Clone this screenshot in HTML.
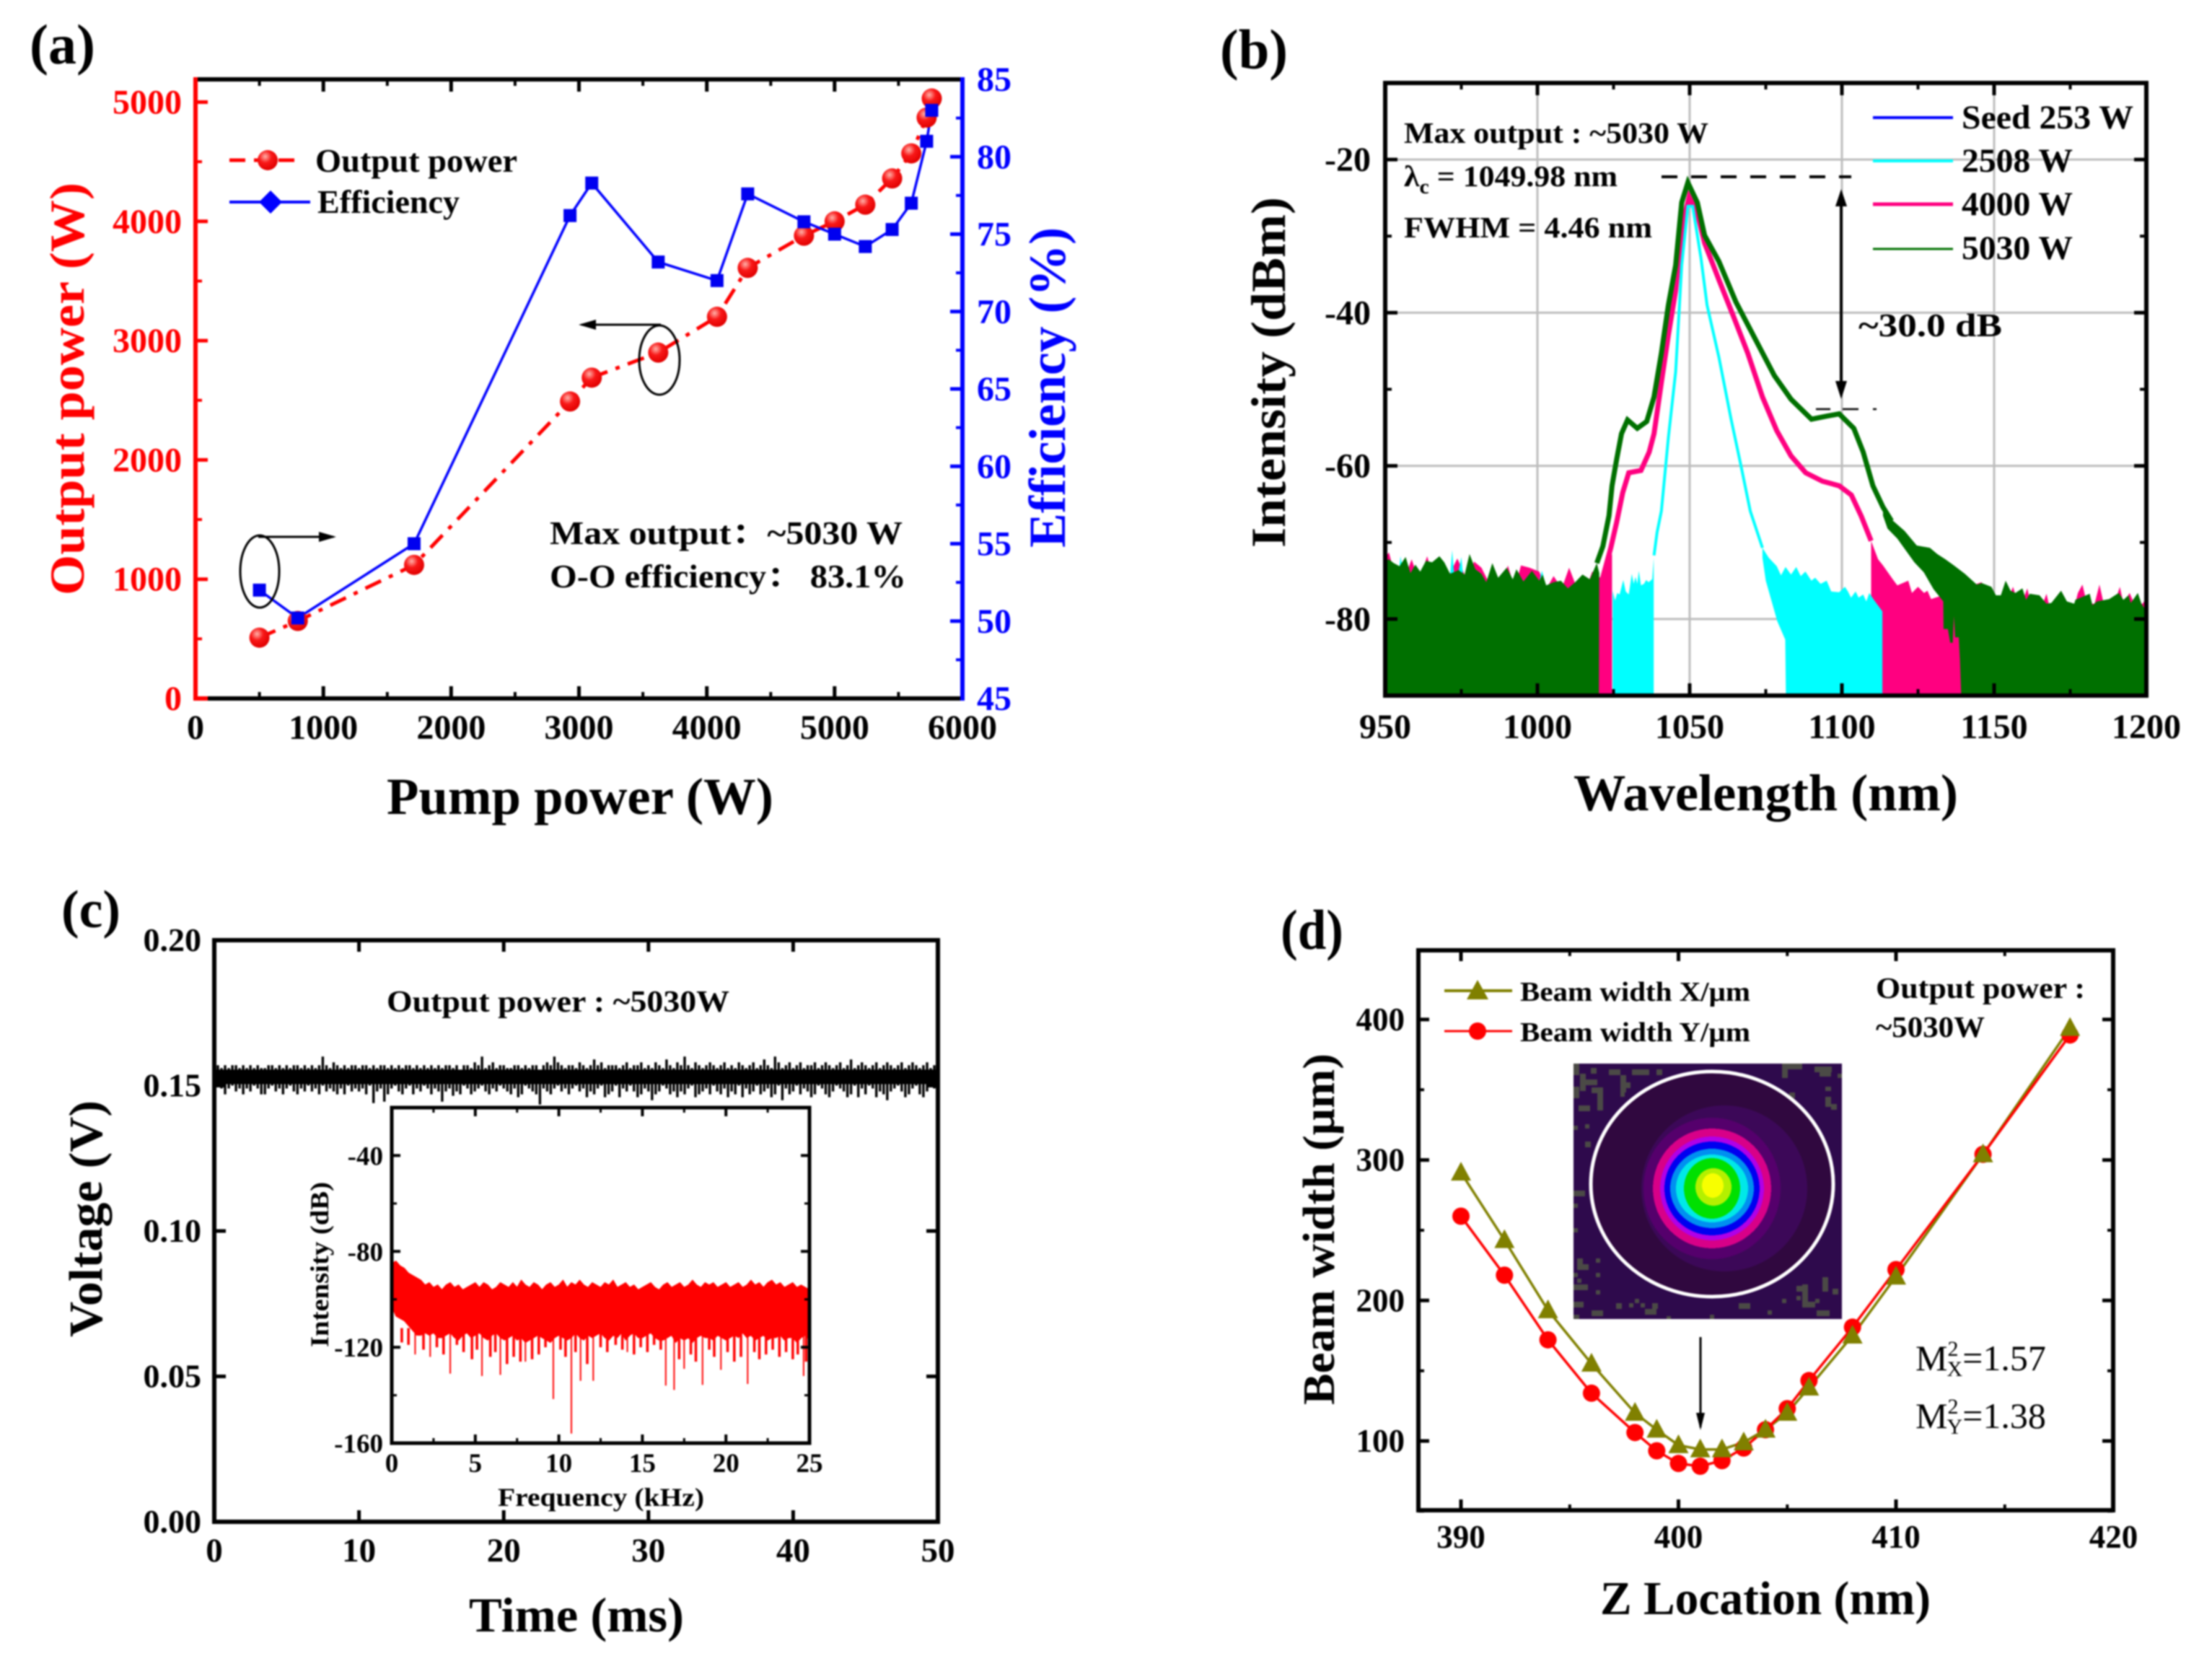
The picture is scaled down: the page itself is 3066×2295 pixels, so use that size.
<!DOCTYPE html>
<html lang="en">
<head>
<meta charset="utf-8">
<title>Fiber laser results figure</title>
<style>
html,body{margin:0;padding:0;background:#fff;width:3066px;height:2295px;overflow:hidden}
svg{display:block;filter:blur(1.1px)}
text{font-family:"Liberation Serif","Noto Serif CJK SC",serif;font-weight:bold;fill:#000}
</style>
</head>
<body>
<svg id="fig" xmlns="http://www.w3.org/2000/svg" width="3066" height="2295" viewBox="0 0 3066 2295">
<defs>
<radialGradient id="ball" cx="38%" cy="32%" r="70%"><stop offset="0" stop-color="#ffb0a8"/><stop offset="0.45" stop-color="#f81818"/><stop offset="1" stop-color="#e00000"/></radialGradient>
<clipPath id="clip-b"><rect x="1920" y="115" width="1055" height="849"/></clipPath>
<clipPath id="clip-inset"><rect x="543" y="1535" width="579" height="465"/></clipPath>
<clipPath id="clip-beam"><rect x="2181" y="1474" width="372" height="354"/></clipPath>
</defs>

<!-- panel a -->
<g id="panel-a">
  <g id="a-marks"></g>
  <line x1="271" y1="110" x2="1334" y2="110" stroke="#000" stroke-width="6"/>
  <line x1="271" y1="968" x2="1334" y2="968" stroke="#000" stroke-width="6"/>
  <line x1="271" y1="968" x2="288" y2="968" stroke="#f00" stroke-width="6"/>
  <line x1="271" y1="107" x2="271" y2="971" stroke="#f00" stroke-width="6"/>
  <line x1="1334" y1="107" x2="1334" y2="971" stroke="#00f" stroke-width="6"/>
  <text x="41" y="88" font-size="78" textLength="91" lengthAdjust="spacingAndGlyphs">(a)</text>
  <text x="536" y="1128" font-size="72" textLength="536" lengthAdjust="spacingAndGlyphs">Pump power (W)</text>
  <text transform="translate(116,825) rotate(-90)" font-size="68" textLength="572" lengthAdjust="spacingAndGlyphs" style="fill:#f00">Output power (W)</text>
  <text transform="translate(1476,759) rotate(-90)" font-size="72" textLength="444" lengthAdjust="spacingAndGlyphs" style="fill:#00f">Efficiency (%)</text>
  <g>
    <line x1="318" y1="222" x2="415" y2="222" stroke="#f00" stroke-width="5" stroke-dasharray="22 12"/>
    <circle cx="371" cy="222" r="14" fill="url(#ball)"/>
    <text x="437" y="238" font-size="46" textLength="280" lengthAdjust="spacingAndGlyphs">Output power</text>
    <line x1="318" y1="280" x2="430" y2="280" stroke="#00f" stroke-width="4"/>
    <path d="M375 264L391 280L375 296L359 280z" fill="#00f"/>
    <text x="440" y="295" font-size="46" textLength="197" lengthAdjust="spacingAndGlyphs">Efficiency</text>
  </g>
  <text x="762" y="754" font-size="46" textLength="489" lengthAdjust="spacingAndGlyphs">Max output：~5030 W</text>
  <text x="762" y="814" font-size="46" textLength="494" lengthAdjust="spacingAndGlyphs">O-O efficiency： 83.1%</text>
  <ellipse cx="360" cy="792" rx="27" ry="50" fill="none" stroke="#000" stroke-width="3"/>
  <path d="M358 744H462" fill="none" stroke="#000" stroke-width="3"/>
  <path d="M442 737L466 744L442 751z" fill="#000"/>
  <ellipse cx="914" cy="499" rx="28" ry="48" fill="none" stroke="#000" stroke-width="3"/>
  <path d="M916 450H806" fill="none" stroke="#000" stroke-width="3"/>
  <path d="M826 443L802 450L826 457z" fill="#000"/>
</g>

<!-- panel b -->
<g id="panel-b">
  <g id="b-grid"></g>
  <g id="b-marks" clip-path="url(#clip-b)"></g>
  <rect x="1920" y="115" width="1055" height="849" fill="none" stroke="#000" stroke-width="6"/>
  <g id="b-axes"></g>
  <text x="1691" y="95" font-size="78" textLength="94" lengthAdjust="spacingAndGlyphs">(b)</text>
  <text x="2181" y="1123" font-size="72" textLength="533" lengthAdjust="spacingAndGlyphs">Wavelength (nm)</text>
  <text transform="translate(1781,759) rotate(-90)" font-size="68" textLength="486" lengthAdjust="spacingAndGlyphs">Intensity (dBm)</text>
  <g>
    <line x1="2596" y1="163" x2="2707" y2="163" stroke="#00f" stroke-width="4"/>
    <text x="2719" y="178" font-size="47" textLength="238" lengthAdjust="spacingAndGlyphs">Seed 253 W</text>
    <line x1="2596" y1="223" x2="2707" y2="223" stroke="#0ff" stroke-width="4"/>
    <text x="2719" y="238" font-size="47" textLength="154" lengthAdjust="spacingAndGlyphs">2508 W</text>
    <line x1="2596" y1="283" x2="2707" y2="283" stroke="#ff0080" stroke-width="5"/>
    <text x="2719" y="298" font-size="47" textLength="154" lengthAdjust="spacingAndGlyphs">4000 W</text>
    <line x1="2596" y1="345" x2="2707" y2="345" stroke="#007000" stroke-width="3"/>
    <text x="2719" y="359" font-size="47" textLength="154" lengthAdjust="spacingAndGlyphs">5030 W</text>
  </g>
  <text x="1946" y="198" font-size="41" textLength="422" lengthAdjust="spacingAndGlyphs">Max output : ~5030 W</text>
  <text x="1946" y="258" font-size="41" textLength="296" lengthAdjust="spacingAndGlyphs">λ<tspan dy="10" font-size="28">c</tspan><tspan dy="-10"> = 1049.98 nm</tspan></text>
  <text x="1946" y="329" font-size="41" textLength="344" lengthAdjust="spacingAndGlyphs">FWHM = 4.46 nm</text>
  <path d="M2303 245H2566" stroke="#000" stroke-width="4" stroke-dasharray="22 19" fill="none"/>
  <path d="M2517 567H2603" stroke="#000" stroke-width="2.5" stroke-dasharray="20 17 22 20 5" fill="none"/>
  <path d="M2552 275V542" stroke="#000" stroke-width="4" fill="none"/>
  <path d="M2552 262L2544 286H2560zM2552 553L2544 528H2560z" fill="#000"/>
  <text x="2576" y="466" font-size="46" textLength="199" lengthAdjust="spacingAndGlyphs" style="font-weight:600">~30.0 dB</text>
</g>

<!-- panel c -->
<g id="panel-c">
  <g id="c-marks"></g>
  <rect x="297" y="1303" width="1003" height="806" fill="none" stroke="#000" stroke-width="6"/>
  <g id="c-axes"></g>
  <rect x="543" y="1535" width="579" height="465" fill="#fff"/>
  <g id="inset-marks" clip-path="url(#clip-inset)"></g>
  <rect x="543" y="1535" width="579" height="465" fill="none" stroke="#000" stroke-width="5"/>
  <g id="inset-axes"></g>
  <text x="85" y="1285" font-size="74" textLength="82" lengthAdjust="spacingAndGlyphs">(c)</text>
  <text x="650" y="2261" font-size="68" textLength="298" lengthAdjust="spacingAndGlyphs">Time (ms)</text>
  <text transform="translate(141,1853) rotate(-90)" font-size="66" textLength="328" lengthAdjust="spacingAndGlyphs">Voltage (V)</text>
  <text x="536" y="1402" font-size="42" textLength="475" lengthAdjust="spacingAndGlyphs">Output power : ~5030W</text>
  <text x="690" y="2087" font-size="36" textLength="286" lengthAdjust="spacingAndGlyphs">Frequency (kHz)</text>
  <text transform="translate(455,1867) rotate(-90)" font-size="36" textLength="229" lengthAdjust="spacingAndGlyphs">Intensity (dB)</text>
</g>

<!-- panel d -->
<g id="panel-d">
  <g clip-path="url(#clip-beam)">
    <rect x="2181" y="1474" width="372" height="354" fill="#2e0a4c"/>
    <path fill="#4b4a46" d="M2181 1474h8v16h-8zM2205 1480h8v8h-8zM2230 1482h16v8h-16zM2262 1482h24v8h-24zM2296 1482h8v8h-8zM2190 1488h8v24h-8zM2198 1496h16v8h-16zM2181 1506h8v16h-8zM2206 1507h16v8h-16zM2214 1515h8v24h-8zM2246 1490h8v24h-8zM2254 1500h6v8h-6zM2310 1514h6v6h-6zM2188 1532h16v8h-16zM2246 1514h6v6h-6zM2470 1474h20v8h-20zM2470 1482h8v12h-8zM2490 1474h8v8h-8zM2515 1478h24v8h-24zM2522 1486h16v6h-16zM2547 1488h6v6h-6zM2530 1506h8v6h-8zM2480 1514h8v8h-8zM2450 1532h8v16h-8zM2530 1520h8v14h-8zM2538 1530h8v8h-8zM2181 1560h6v6h-6zM2197 1558h6v6h-6zM2197 1582h8v8h-8zM2181 1650h16v8h-16zM2181 1668h6v6h-6zM2181 1702h6v6h-6zM2186 1744h8v16h-8zM2186 1752h16v8h-16zM2181 1764h6v6h-6zM2186 1772h6v6h-6zM2181 1780h20v8h-20zM2212 1744h6v6h-6zM2212 1764h6v6h-6zM2212 1788h6v6h-6zM2181 1804h14v8h-14zM2206 1816h16v8h-16zM2240 1806h8v8h-8zM2258 1806h6v6h-6zM2266 1800h6v6h-6zM2274 1806h6v6h-6zM2280 1814h16v8h-16zM2290 1806h8v8h-8zM2410 1806h16v8h-16zM2450 1816h6v6h-6zM2470 1800h6v6h-6zM2490 1796h6v6h-6zM2498 1780h8v24h-8zM2498 1804h18v8h-18zM2516 1800h6v6h-6zM2526 1770h8v20h-8zM2490 1782h14v8h-14zM2540 1786h8v8h-8zM2518 1816h18v8h-18zM2181 1822h8v6h-8zM2370 1822h6v6h-6zM2310 1824h6v4h-6z"/>
    <ellipse cx="2373" cy="1641" rx="166" ry="154" fill="#30083f"/>
    <ellipse cx="2390" cy="1647" rx="115" ry="115" fill="#3c0858"/>
    <ellipse cx="2373" cy="1647" rx="95" ry="98" fill="#55006c"/>
    <ellipse cx="2373" cy="1647" rx="82" ry="83" fill="#d80088" shape-rendering="crispEdges"/>
    <ellipse cx="2373" cy="1647" rx="72" ry="72" fill="#b000e8" shape-rendering="crispEdges"/>
    <ellipse cx="2373" cy="1647" rx="66" ry="65" fill="#0000f0" shape-rendering="crispEdges"/>
    <ellipse cx="2373" cy="1647" rx="58" ry="55" fill="#0090f0" shape-rendering="crispEdges"/>
    <ellipse cx="2373" cy="1647" rx="50" ry="47" fill="#00e8e8" shape-rendering="crispEdges"/>
    <ellipse cx="2373" cy="1647" rx="39" ry="42" fill="#00e000" shape-rendering="crispEdges"/>
    <ellipse cx="2375" cy="1645" rx="25" ry="26" fill="#b4f000" shape-rendering="crispEdges"/>
    <ellipse cx="2374" cy="1643" rx="15" ry="17" fill="#f8ff00" shape-rendering="crispEdges"/>
    <ellipse cx="2373" cy="1641" rx="168" ry="156" fill="none" stroke="#fff" stroke-width="5"/>
  </g>
  <g id="d-marks"></g>
  <rect x="1966" y="1317" width="963" height="776" fill="none" stroke="#000" stroke-width="6"/>
  <g id="d-axes"></g>
  <text x="1775" y="1315" font-size="78" textLength="87" lengthAdjust="spacingAndGlyphs">(d)</text>
  <text x="2218" y="2237" font-size="66" textLength="458" lengthAdjust="spacingAndGlyphs">Z Location (nm)</text>
  <text transform="translate(1849,1947) rotate(-90)" font-size="62" textLength="487" lengthAdjust="spacingAndGlyphs">Beam width (μm)</text>
  <g>
    <line x1="2002" y1="1373" x2="2096" y2="1373" stroke="#808000" stroke-width="4"/>
    <path d="M2048 1358L2063 1385H2033z" fill="#808000"/>
    <text x="2107" y="1387" font-size="38" textLength="319" lengthAdjust="spacingAndGlyphs">Beam width X/μm</text>
    <line x1="2002" y1="1429" x2="2096" y2="1429" stroke="#f00" stroke-width="3"/>
    <circle cx="2048" cy="1429" r="12" fill="#f00"/>
    <text x="2107" y="1443" font-size="38" textLength="319" lengthAdjust="spacingAndGlyphs">Beam width Y/μm</text>
  </g>
  <text x="2600" y="1383" font-size="41" textLength="290" lengthAdjust="spacingAndGlyphs">Output power :</text>
  <text x="2600" y="1437" font-size="41" textLength="151" lengthAdjust="spacingAndGlyphs">~5030W</text>
  <path d="M2357 1853V1978" stroke="#000" stroke-width="3" fill="none"/>
  <path d="M2357 1982L2351 1958H2363z" fill="#000"/>
  <text x="2655" y="1899" font-size="50" style="font-weight:normal">M<tspan dy="-20" font-size="30">2</tspan><tspan dy="28" dx="-16" font-size="30">X</tspan><tspan dy="-8" font-size="50">=1.57</tspan></text>
  <text x="2655" y="1979" font-size="50" style="font-weight:normal">M<tspan dy="-20" font-size="30">2</tspan><tspan dy="28" dx="-16" font-size="30">Y</tspan><tspan dy="-8" font-size="50">=1.38</tspan></text>
</g>

<script>
// ---------- panel (a) data ----------
const pumpPower = [500,800,1710,2930,3100,3620,4080,4320,4760,5000,5240,5450,5600,5720,5760];
const outputPower = [510,650,1120,2490,2690,2900,3200,3610,3880,4000,4140,4360,4570,4870,5030];
const efficiencyPct = [52,50.2,55,76.2,78.3,73.2,72,77.6,75.8,75,74.2,75.3,77,81,83];
const aXTicks = [0,1000,2000,3000,4000,5000,6000];
const aXMinor = [500,1500,2500,3500,4500,5500];
const aPowerTicks = [0,1000,2000,3000,4000,5000];
const aPowerMinor = [500,1500,2500,3500,4500];
const aEffTicks = [45,50,55,60,65,70,75,80,85];
const aEffMinor = [47.5,52.5,57.5,62.5,67.5,72.5,77.5,82.5];

// ---------- panel (b) data (dB values) ----------
const greenLeftWl = [950,951.2,952.8,954.7,956.7,958.3,959.9,961.5,963.4,965.4,967.8,969.4,971.3,974.1,976.1,977.7,979.6,981.6,983.2,985.2,987.1,989.9,991.9,993.1,995.4,998.2,1000.6,1001.7,1002.9,1005.3,1007.7,1010,1012.4,1014.8,1017.2,1019.5];
const greenLeftDb = [-72.4,-72.2,-72.7,-73.1,-71.9,-74,-72.9,-73.8,-72.4,-72.6,-71.8,-72.6,-74.1,-73.6,-74.2,-71.5,-73.5,-74.1,-75.2,-72.7,-74.6,-73.3,-74.8,-73.5,-75.1,-73.7,-75,-74.2,-75.6,-75.2,-75,-76,-75.2,-74.2,-74.8,-72.7];
const pinkLeftWl = [950,951.2,953,956,958.7,961,963.8,966,970,973.7,977,979.2,981.6,985,988,990.3,992.5,994.6,997.4,1000.6,1003,1005.3,1008,1010.4,1013,1016,1018,1021.3,1022.5,1024.5];
const pinkLeftDb = [-72,-71.3,-74,-75,-72.2,-75,-71.8,-75,-75,-72.1,-75,-72.5,-73.3,-76,-76,-73,-76,-73,-73.3,-73.8,-76,-74.4,-76,-73.3,-76,-76,-73.8,-74.8,-72.8,-71.5];
const cyanFloorWl = [950,954,955,957,971,972,973,975,976,1000,1001.5,1003,1020];
const cyanFloorDb = [-76,-76,-71.8,-76,-76,-71,-76,-71.9,-76,-76,-73.7,-76,-76];
const greenCurveWl = [1019.5,1021.5,1023.5,1024.5,1026,1027.6,1029.6,1032.8,1035.9,1038.3,1040.7,1043,1045.4,1047.4,1049.4,1052.5,1054.9,1059.6,1065.2,1071.5,1077.8,1083.3,1090,1095.2,1099.1,1103.9,1107,1110.2,1113.5,1116.3];
const greenCurveDb = [-72.7,-70.5,-66.5,-62.6,-59.2,-55.8,-54,-55.1,-54.2,-51,-45.3,-39,-33.8,-25.6,-23,-25.6,-29.9,-33.3,-38.6,-43.4,-48.2,-51.3,-53.9,-53.5,-53.2,-55.1,-58.2,-62.6,-65.4,-67.2];
const greenTailWl = [1113.5,1116.3,1120.6,1124.6,1128.9,1131.3,1134,1136.8,1140.4,1144.3,1145.9,1149.1,1150.6,1152.2,1153.8,1155.4,1157,1159.3,1160.5,1161.7,1164.9,1167.2,1168.8,1172,1173.9,1176.3,1176.7,1181.4,1182.3,1183.8,1187.8,1190.9,1192.5,1194.1,1194.9,1197.2,1198.4,1200];
const greenTailDb = [-65.4,-67,-68.5,-70.4,-70.7,-71.5,-72.2,-73,-74.1,-75.5,-75.3,-75.8,-76.9,-76.9,-75,-76.3,-76.6,-76,-77.5,-76.7,-76.9,-78,-77.9,-76.3,-77.7,-78,-77.5,-76.7,-78.2,-77.7,-77.4,-76.6,-77.5,-76.9,-77.9,-76.6,-78,-79];
const greenTailLowWl = [1113.5,1115,1118.2,1123.8,1126.9,1130.1,1133.3,1133.4,1134.8,1135.6,1136.4,1136.8,1137.2,1138.4,1138.8,1139.2,1200];
const greenTailLowDb = [-66.5,-68.2,-69.5,-72.6,-73.9,-76.1,-77.7,-81.3,-81.3,-83.1,-83.1,-79.6,-82.4,-82.4,-85.4,-90,-90];
const pinkCurveWl = [1021.3,1024.1,1026,1028,1030,1034,1036.7,1038.3,1040.7,1043,1045.4,1047.4,1049.8,1052.5,1054.9,1059.6,1064.4,1069.1,1073.9,1078.6,1083.3,1088.1,1093.6,1099.1,1103.1,1106.4,1109.6];
const pinkCurveDb = [-74.8,-70.7,-67.4,-63.5,-60.9,-60.6,-58.2,-55.8,-49.1,-42.9,-37.1,-29,-24.9,-27,-30.9,-35.7,-40.5,-45.3,-51,-55.4,-58.7,-60.9,-62,-62.6,-63.8,-66.6,-69.8];
const pinkTailWl = [1109.6,1111.9,1113.5,1116.7,1118.2,1121.8,1123,1125,1127,1128.1,1129.3,1140,1145.9,1147,1155,1156.2,1157.5,1159.5,1160.9,1162,1166,1167.2,1168.5,1176,1177.5,1179,1180.5,1183,1184.6,1186,1189.5,1191.3,1192.5,1194.5,1196,1198.8,1200];
const pinkTailDb = [-69.8,-72.2,-73,-74.8,-75.6,-75,-76.6,-75.8,-76.6,-76.3,-77.4,-76,-75.2,-77,-77,-75.8,-77.5,-77.5,-76,-78,-78,-76.7,-79,-79,-76.6,-75.5,-78,-78,-75.5,-78,-78,-75.8,-78,-76.6,-78,-78,-77.2];
const cyanLeftWl = [1024.7,1025.5,1026.2,1027,1028.2,1029,1030,1031,1031.6,1032.2,1032.8,1033.3,1034,1035,1035.7,1036.5,1037.7,1038.2];
const cyanLeftDb = [-76.3,-77.6,-76.6,-76.8,-74.9,-76.4,-76.8,-74.1,-75.4,-74.5,-75.4,-73.7,-75.6,-75.4,-74.9,-75.2,-74.8,-72];
const cyanCurveWl = [1038.3,1039.3,1040.7,1043,1045.4,1047.4,1049.4,1051,1053.7,1055.7,1059.6,1063.6,1066.7,1069.9,1073.9];
const cyanCurveDb = [-71.7,-68.7,-65.9,-56.3,-47.7,-33.8,-26.1,-26.1,-32.8,-39,-45.8,-53.9,-59.7,-65.9,-70.7];
const cyanTailWl = [1073.9,1076,1078.6,1080,1081.5,1083.3,1085,1086.5,1088,1090,1091.2,1093,1095,1096.5,1099.1,1101,1102,1103,1104.5,1105.5,1107,1108,1109,1110.5,1113.3];
const cyanTailDb = [-70.7,-72,-73.1,-74.3,-73.2,-74.2,-73.2,-74.4,-73.8,-75,-74.6,-75.4,-75,-76.4,-76.5,-75.8,-76.4,-77.2,-76.4,-77.2,-76.8,-77.7,-76.6,-77.5,-79];
const cyanTailLowWl = [1073.9,1075,1078.8,1081.4,1081.6,1113.3];
const cyanTailLowDb = [-72,-75,-80.3,-82.7,-90,-90];
const bXTicks = [950,1000,1050,1100,1150,1200];
const bXMinor = [975,1025,1075,1125,1175];
const bYTicks = [-20,-40,-60,-80];
const bYMinor = [-10,-30,-50,-70,-90];

// ---------- panel (c) data ----------
const voltHighMv = [156,157,156,157,156,157,157,156,157,156,157,156,157,156,156,157,157,156,157,156,
157,156,157,157,156,157,156,157,156,157,160,157,156,158,157,156,157,156,157,157,
156,157,157,156,157,156,157,157,156,157,156,157,156,157,157,156,157,156,157,156,
157,156,157,156,157,157,156,157,155,157,157,156,158,157,160,156,157,158,156,157,
157,156,156,157,157,156,157,156,157,157,155,157,158,157,160,158,157,156,157,157,
156,158,157,156,157,159,157,158,156,157,157,157,156,157,158,156,157,157,158,156,
157,156,158,157,156,159,157,156,158,157,160,157,156,158,157,156,157,158,157,156,
157,158,156,157,156,158,157,156,157,158,156,157,159,157,156,160,158,156,157,158,
156,157,158,156,157,157,158,156,157,158,157,156,157,158,156,157,159,156,157,158,
157,156,157,158,156,157,158,157,156,157,158,156,157,158,157,156,157,158,156,157,158];
const voltLowMv = [148,150,149,147,149,150,148,149,147,149,148,150,149,147,147,149,150,148,149,147,
149,150,148,147,149,148,150,148,149,147,150,148,149,148,147,149,147,150,148,149,
148,149,147,150,144,148,149,144.5,147,149,150,148,147,149,150,147,149,148,150,149,
147,149,148,144.5,148,149,146.5,148,147,150,149,147,148,149,150,148,147,149,148,150,
149,148,147,149,146,147,150,149,148,147,143.5,149,148,147,149,150,148,149,147,149,
150,148,149,146,148,147,149,150,146,147,148,150,146,149,148,150,148,146,147,149,
148,145,147,148,150,149,147,148,146,148,147,149,150,146,147,148,149,147,150,148,
147,149,146,148,147,150,146,149,147,148,150,147,148,149,146,147,150,145,149,147,
148,150,147,149,148,146,147,150,149,147,146,148,150,149,148,146,147,150,146,149,
147,150,149,146,148,147,145,148,149,150,148,146,147,149,150,147,146,148,150,149,148];
const voltCoreMv = [150.5,155.5];
const cXTicks = [0,10,20,30,40,50];
const cYTicks = [0,0.05,0.1,0.15,0.2];
const cYLabels = ["0.00","0.05","0.10","0.15","0.20"];

// inset envelope (dB), one value per 0.25 kHz
const insetTop = [-85,-84,-86,-87,-89,-90,-91,-92,-94,-93,-95,-94,-96,-94,-93,-95,-94,-96,-95,-94,
-93,-95,-93,-94,-96,-95,-93,-94,-95,-93,-95,-92,-94,-95,-93,-94,-96,-94,-93,-95,
-94,-92,-95,-93,-94,-92,-94,-95,-93,-94,-95,-93,-94,-92,-95,-94,-93,-95,-94,-96,
-95,-94,-93,-95,-96,-94,-93,-95,-94,-93,-95,-94,-92,-94,-95,-93,-94,-93,-95,-94,
-93,-95,-94,-93,-95,-94,-92,-94,-93,-95,-93,-92,-94,-93,-95,-94,-93,-95,-94,-95,-96];
const insetBottom = [-103,-107,-108,-109,-111,-113,-115,-115,-114,-115,-114,-116,-116,-115,-114,-116,-117,-115,-114,-116,
-115,-114,-116,-117,-115,-114,-116,-117,-116,-115,-117,-116,-118,-117,-116,-115,-116,-117,-118,-116,
-115,-116,-117,-116,-114,-116,-117,-115,-116,-115,-114,-116,-117,-115,-116,-114,-117,-115,-114,-116,
-116,-115,-114,-116,-117,-117,-116,-115,-118,-116,-117,-116,-118,-116,-115,-116,-116,-117,-115,-116,
-117,-116,-115,-116,-114,-116,-115,-117,-116,-115,-117,-116,-116,-115,-117,-116,-116,-118,-116,-115,-117];
const dipFreq = [1.4,2.3,3.5,5.4,6.5,8,9.67,10.75,11.3,12.06,14.1,16.4,16.9,17.5,18.6,19.7,21.3,24.65];
const dipDb = [-123,-124,-131,-132,-131.5,-126,-141.6,-156,-134,-134,-122,-136,-137.8,-129,-135.7,-129.4,-135.3,-132];
const fuzzFreq = [0.6,1,1.9,2.7,3.1,3.9,4.3,4.8,5.1,5.9,6.2,6.9,7.3,7.7,8.4,8.8,9.2,10.1,10.4,11,11.7,12.5,12.9,13.4,13.8,14.5,14.9,15.3,15.7,16.1,17.2,17.9,18.2,19,19.3,20.1,20.5,20.9,21.7,22,22.4,22.8,23.2,23.6,24,24.3,24.8];
const fuzzDb = [-118,-119,-121,-120,-123,-119,-122,-125,-121,-124,-122,-127,-124,-126,-125,-123,-120,-121,-124,-122,-127,-120,-122,-119,-121,-123,-120,-122,-119,-121,-125,-123,-126,-121,-124,-122,-126,-124,-122,-125,-123,-121,-124,-122,-125,-123,-126];
const insetXTicks = [0,5,10,15,20,25];
const insetXMinor = [2.5,7.5,12.5,17.5,22.5];
const insetYTicks = [-40,-80,-120,-160];
const insetYMinor = [-20,-60,-100,-140];

// ---------- panel (d) data ----------
const zLocation = [390,392,394,396,398,399,400,401,402,403,404,405,406,408,410,414,418];
const beamX = [291,243,193,155,120,108,97,94,94,99,108,120,138,175,217,304,394];
const beamY = [260,218,172,134,106,93,84,82,86,95,108,123,143,181,222,304,389];
const dXTicks = [390,400,410,420];
const dXMinor = [395,405,415];
const dYTicks = [100,200,300,400];
const dYMinor = [50,150,250,350];

// ---------- axis functions ----------
const aX = v => 271 + (v - 0) * (1334 - 271) / 6000;
const aYPower = v => 968 - v * (968 - 141.5) / 5000;
const aYEff = v => 968 - (v - 45) * (968 - 110) / 40;
const bX = v => 1920 + (v - 950) * (2975 - 1920) / 250;
const bY = v => 964 - (v + 90) * (964 - 115) / 80;
const cX = v => 297 + v * (1300 - 297) / 50;
const cY = v => 2109 - v * (2109 - 1303) / 0.2;
const iX = v => 543 + v * (1122 - 543) / 25;
const iY = v => 2000 - (v + 160) * (2000 - 1535) / 140;
const dX = v => 2025 + (v - 390) * 30.15;
const dY = v => 1997 - (v - 100) * 1.947;

const NS = 'http://www.w3.org/2000/svg';
const $ = id => document.getElementById(id);
function add(parent, tag, attrs) {
  const el = document.createElementNS(NS, tag);
  for (const k in attrs) el.setAttribute(k, attrs[k]);
  parent.appendChild(el);
  return el;
}
function poly(xs, ys, fx, fy) {
  return xs.map((x, i) => (i ? 'L' : 'M') + fx(x).toFixed(1) + ' ' + fy(ys[i]).toFixed(1)).join('');
}
function band(topW, topD, lowW, lowD, fx, fy) {
  let d = poly(topW, topD, fx, fy);
  for (let i = lowW.length - 1; i >= 0; i--) d += 'L' + fx(lowW[i]).toFixed(1) + ' ' + fy(lowD[i]).toFixed(1);
  return d + 'Z';
}
function vTicks(parent, vals, fx, y0, y1, len, color, width) {
  let d = '';
  vals.forEach(v => { d += 'M' + fx(v).toFixed(1) + ' ' + y0 + 'v' + (-len) + 'M' + fx(v).toFixed(1) + ' ' + y1 + 'v' + len; });
  return add(parent, 'path', {d: d, stroke: color, 'stroke-width': width, fill: 'none'});
}
function hTicks(parent, vals, fy, x0, x1, len, color, width) {
  let d = '';
  vals.forEach(v => {
    if (x0 !== null) d += 'M' + x0 + ' ' + fy(v).toFixed(1) + 'h' + len;
    if (x1 !== null) d += 'M' + x1 + ' ' + fy(v).toFixed(1) + 'h' + (-len);
  });
  return add(parent, 'path', {d: d, stroke: color, 'stroke-width': width, fill: 'none'});
}
function label(parent, str, x, y, size, anchor, color) {
  const t = add(parent, 'text', {x: x, y: y, 'font-size': size, 'text-anchor': anchor});
  t.textContent = str;
  if (color) t.style.fill = color;
  return t;
}

// ---------- draw panel (a) ----------
(function () {
  const g = $('a-marks');
  const powerLine = add(g, 'path', {d: poly(pumpPower, outputPower, aX, aYPower), fill: 'none', stroke: '#f00', 'stroke-width': 5, 'stroke-dasharray': '24 12 6 12'});
  
  
  const effLine = add(g, 'path', {d: poly(pumpPower, efficiencyPct, aX, aYEff), fill: 'none', stroke: '#00f', 'stroke-width': 3.5});
  
  
  pumpPower.forEach((p, i) => {
    const c = add(g, 'circle', {cx: aX(p), cy: aYPower(outputPower[i]), r: 14, fill: 'url(#ball)'});
    
    
  });
  pumpPower.forEach((p, i) => {
    const s = add(g, 'rect', {x: aX(p) - 9, y: aYEff(efficiencyPct[i]) - 9, width: 18, height: 18, fill: '#0000f0'});
    
    
  });
  const xt = vTicks(g, aXTicks, aX, 968, 110, 17, '#000', 5);
  
  
  const xm = vTicks(g, aXMinor, aX, 968, 110, 9, '#000', 4);
  
  
  const pt = hTicks(g, aPowerTicks, aYPower, 271, null, 17, '#f00', 5);
  
  
  const pm = hTicks(g, aPowerMinor, aYPower, 271, null, 9, '#f00', 4);
  
  
  const et = hTicks(g, aEffTicks, aYEff, null, 1334, 17, '#00f', 5);
  
  
  const em = hTicks(g, aEffMinor, aYEff, null, 1334, 9, '#00f', 4);
  
  
  aXTicks.forEach(v => {
    const t = label(g, String(v), aX(v), 1024, 48, 'middle');
    
    
  });
  aPowerTicks.forEach(v => {
    const t = label(g, String(v), 252, aYPower(v) + 16, 48, 'end', '#f00');
    
    
  });
  aEffTicks.forEach(v => {
    const t = label(g, String(v), 1354, aYEff(v) + 16, 48, 'start', '#00f');
    
    
  });
})();

// ---------- draw panel (b) ----------
(function () {
  const grid = $('b-grid');
  bXTicks.slice(1, 5).forEach(v => {
    const l = add(grid, 'line', {x1: bX(v), x2: bX(v), y1: 115, y2: 964, stroke: '#bdbdbd', 'stroke-width': 3});
    
    
  });
  bYTicks.forEach(v => {
    const l = add(grid, 'line', {x1: 1920, x2: 2975, y1: bY(v), y2: bY(v), stroke: '#bdbdbd', 'stroke-width': 3});
    
    
  });
  const g = $('b-marks');
  const PINK = '#ff0080', CYAN = '#00ffff', GREEN = '#007000';

  const pl = add(g, 'path', {d: band(pinkLeftWl, pinkLeftDb, [950, 1024.5], [-90, -90], bX, bY), fill: PINK, stroke: 'none'});
  
  
  const pc = add(g, 'path', {d: poly(pinkCurveWl, pinkCurveDb, bX, bY), fill: 'none', stroke: PINK, 'stroke-width': 7});
  
  
  const pt = add(g, 'path', {d: band(pinkTailWl, pinkTailDb, [1109.6, 1200], [-90, -90], bX, bY), fill: PINK, stroke: 'none'});
  
  

  const cf = add(g, 'path', {d: band(cyanFloorWl, cyanFloorDb, [950, 1020], [-90, -90], bX, bY), fill: CYAN, stroke: 'none'});
  
  
  const cl = add(g, 'path', {d: band(cyanLeftWl, cyanLeftDb, [1024.7, 1038.2], [-90, -90], bX, bY), fill: CYAN, stroke: 'none'});
  
  
  const cc = add(g, 'path', {d: poly(cyanCurveWl, cyanCurveDb, bX, bY), fill: 'none', stroke: CYAN, 'stroke-width': 4});
  
  
  const ct = add(g, 'path', {d: band(cyanTailWl, cyanTailDb, cyanTailLowWl, cyanTailLowDb, bX, bY), fill: CYAN, stroke: 'none'});
  
  

  const gl = add(g, 'path', {d: band(greenLeftWl.concat([1020.3]), greenLeftDb.concat([-74]), [950, 1020.2], [-90, -90], bX, bY), fill: GREEN, stroke: 'none'});
  
  
  const gc = add(g, 'path', {d: poly(greenCurveWl, greenCurveDb, bX, bY), fill: 'none', stroke: GREEN, 'stroke-width': 7});
  
  
  const gt = add(g, 'path', {d: band(greenTailWl, greenTailDb, greenTailLowWl, greenTailLowDb, bX, bY), fill: GREEN, stroke: 'none'});
  
  

  const ax = $('b-axes');
  const xt = vTicks(ax, bXTicks, bX, 964, 115, 17, '#000', 5);
  
  
  const xm = vTicks(ax, bXMinor, bX, 964, 115, 9, '#000', 4);
  
  
  const yt = hTicks(ax, bYTicks, bY, 1920, 2975, 17, '#000', 5);
  
  
  const ym = hTicks(ax, bYMinor, bY, 1920, 2975, 9, '#000', 4);
  
  
  bXTicks.forEach(v => {
    const t = label(ax, String(v), bX(v), 1023, 48, 'middle');
    
    
  });
  bYTicks.forEach(v => {
    const t = label(ax, String(v), 1900, bY(v) + 16, 48, 'end');
    
    
  });
})();

// ---------- draw panel (c) ----------
(function () {
  const g = $('c-marks');
  const core = add(g, 'rect', {x: cX(0), y: cY(voltCoreMv[1] / 1000), width: cX(50) - cX(0), height: cY(voltCoreMv[0] / 1000) - cY(voltCoreMv[1] / 1000), fill: '#000'});
  
  
  let d = '';
  voltHighMv.forEach((hi, i) => {
    const x = cX(i * 0.25).toFixed(1);
    d += 'M' + x + ' ' + cY(hi / 1000).toFixed(1) + 'V' + cY(voltLowMv[i] / 1000).toFixed(1);
  });
  const trace = add(g, 'path', {d: d, stroke: '#000', 'stroke-width': 3.4, fill: 'none'});
  
  
  const ax = $('c-axes');
  const xt = vTicks(ax, cXTicks, cX, 2109, 1303, 16, '#000', 5);
  
  
  const yt = hTicks(ax, cYTicks, cY, 297, 1300, 16, '#000', 5);
  
  
  cXTicks.forEach(v => {
    const t = label(ax, String(v), cX(v), 2164, 47, 'middle');
    
    
  });
  cYTicks.forEach((v, i) => {
    const t = label(ax, cYLabels[i], 279, cY(v) + 15, 46, 'end');
    
    
  });

  const im = $('inset-marks');
  const freqs = insetTop.map((_, i) => i * 0.25);
  const env = add(im, 'path', {d: band(freqs, insetTop, freqs, insetBottom, iX, iY), fill: '#f00', stroke: '#f00', 'stroke-width': 1});
  
  
  dipFreq.forEach((f, i) => {
    const l = add(im, 'line', {x1: iX(f), x2: iX(f), y1: iY(-112), y2: iY(dipDb[i]), stroke: '#f00', 'stroke-width': 2});
    
    
  });
  fuzzFreq.forEach((f, i) => {
    const l = add(im, 'line', {x1: iX(f), x2: iX(f), y1: iY(-112), y2: iY(fuzzDb[i]), stroke: '#f00', 'stroke-width': 3.5});
    
    
  });
  const ia = $('inset-axes');
  const ixt = vTicks(ia, insetXTicks, iX, 2000, 1535, 12, '#000', 4);
  
  
  const ixm = vTicks(ia, insetXMinor, iX, 2000, 1535, 7, '#000', 3);
  
  
  const iyt = hTicks(ia, insetYTicks, iY, 543, 1122, 12, '#000', 4);
  
  
  const iym = hTicks(ia, insetYMinor, iY, 543, 1122, 7, '#000', 3);
  
  
  insetXTicks.forEach(v => {
    const t = label(ia, String(v), iX(v), 2040, 37, 'middle');
    
    
  });
  insetYTicks.forEach(v => {
    const t = label(ia, String(v), 531, iY(v) + 13, 37, 'end');
    
    
  });
})();

// ---------- draw panel (d) ----------
(function () {
  const g = $('d-marks');
  const lineX = add(g, 'path', {d: poly(zLocation, beamX, dX, dY), fill: 'none', stroke: '#808000', 'stroke-width': 3.5});
  
  
  const lineY = add(g, 'path', {d: poly(zLocation, beamY, dX, dY), fill: 'none', stroke: '#f00', 'stroke-width': 3.5});
  
  
  zLocation.forEach((z, i) => {
    const c = add(g, 'circle', {cx: dX(z), cy: dY(beamY[i]), r: 12, fill: '#f00'});
    
    
  });
  zLocation.forEach((z, i) => {
    const x = dX(z), y = dY(beamX[i]);
    const p = add(g, 'path', {d: 'M' + x + ' ' + (y - 15) + 'L' + (x + 14) + ' ' + (y + 11) + 'H' + (x - 14) + 'Z', fill: '#808000'});
    
    
  });
  const ax = $('d-axes');
  const xt = vTicks(ax, dXTicks, dX, 2093, 1317, 15, '#000', 5);
  
  
  const xm = vTicks(ax, dXMinor, dX, 2093, 1317, 8, '#000', 4);
  
  
  const yt = hTicks(ax, dYTicks, dY, 1966, 2929, 15, '#000', 5);
  
  
  const ym = hTicks(ax, dYMinor, dY, 1966, 2929, 8, '#000', 4);
  
  
  dXTicks.forEach(v => {
    const t = label(ax, String(v), dX(v), 2145, 45, 'middle');
    
    
  });
  dYTicks.forEach(v => {
    const t = label(ax, String(v), 1947, dY(v) + 15, 45, 'end');
    
    
  });
})();
</script>
</svg>
</body>
</html>
